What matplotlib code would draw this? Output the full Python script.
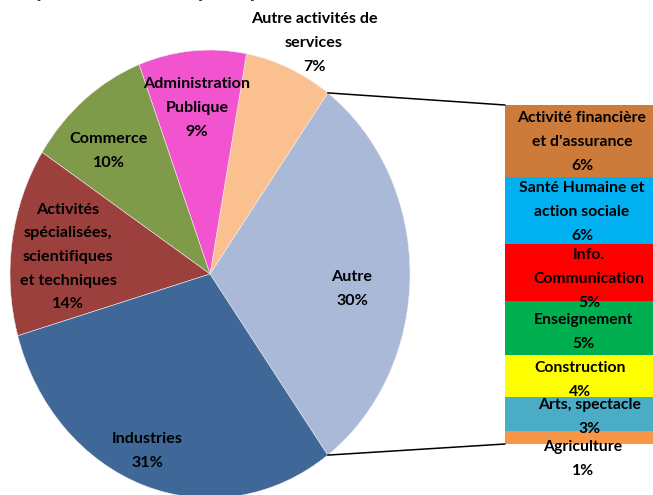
import numpy as np
import matplotlib.pyplot as plt
from matplotlib.patches import ConnectionPatch

# Données du camembert (Autre = somme de la barre)
pie_labels = ["Autre", "Autre activités de\nservices", "Administration\nPublique",
              "Commerce", "Activités\nspécialisées,\nscientifiques\net techniques", "Industries"]
pie_other = [7.1, 8.7, 10.1, 13.6, 30.6]
pie_colors = ["#AAB9D7", "#FAC090", "#F254D0", "#7F9A48", "#9C403E", "#3F6898"]

bar_labels = ["Activité financière\net d'assurance", "Santé Humaine et\naction sociale",
              "Info.\nCommunication", "Enseignement", "Construction",
              "Arts, spectacle", "Agriculture"]
bar_values = [6.37, 5.93, 5.04, 4.78, 3.72, 3.01, 1.15]
bar_colors = ["#CD7B3A", "#00B0F0", "#FF0000", "#00B050", "#FFFF00", "#4BACC6", "#F79646"]

pie_values = [sum(bar_values)] + pie_other
total = sum(pie_values)

W, H = 653, 495
plt.rcParams['font.family'] = ['Lato', 'DejaVu Sans']

def rect(x0, y0, x1, y1):
    return [x0 / W, 1 - y1 / H, (x1 - x0) / W, (y1 - y0) / H]

fig = plt.figure(figsize=(W / 100, H / 100), dpi=100)

# camembert
ax = fig.add_axes(rect(10, 50, 410, 498))
half = pie_values[0] / total * 360 / 2
ax.pie(pie_values, colors=pie_colors, startangle=-half, counterclock=True,
       wedgeprops=dict(linewidth=0.4, edgecolor='#EEEEEE'))
ax.set_xlim(-1, 1)
ax.set_ylim(-1, 1)
ax.set_aspect('auto')
ax.axis('off')

# barre empilée
bax = fig.add_axes(rect(505, 105, 653, 444))
bottoms = np.concatenate([[0], np.cumsum(bar_values)[:-1]])
bax.bar(0, bar_values, bottom=bottoms, width=1, color=bar_colors, linewidth=0)
bax.set_xlim(-0.5, 0.5)
bax.set_ylim(sum(bar_values), 0)
bax.axis('off')

# lignes de liaison
for ang, yb in [(half, 0), (-half, sum(bar_values))]:
    a = np.radians(ang)
    con = ConnectionPatch(xyA=(np.cos(a), np.sin(a)), coordsA=ax.transData,
                          xyB=(-0.5, yb), coordsB=bax.transData,
                          color='black', linewidth=1.1)
    fig.add_artist(con)

# étiquettes
pie_pos = [(314, 43), (197, 108), (109, 151), (68, 257), (147, 451)]
pie_pos = [(352, 289)] + pie_pos
for lab, v, (x, y) in zip(pie_labels, pie_values, pie_pos):
    fig.text(x / W, 1 - y / H, f"{lab}\n{round(v / total * 100)}%", ha='center', va='center',
             fontsize=11.6, weight='bold', linespacing=1.88, multialignment='center')

bar_pos = [(582, 142), (582, 212), (589, 279), (583, 332), (580, 380), (590, 417), (583, 459)]
for lab, v, (x, y) in zip(bar_labels, bar_values, bar_pos):
    fig.text(x / W, 1 - y / H, f"{lab}\n{round(v / total * 100)}%", ha='center', va='center',
             fontsize=11.3, weight='bold', linespacing=1.88, multialignment='center')

# titre (coupé en haut)
fig.text(10 / W, 1 + 3 / H, "Répartition des emplois par secteurs d'activités", ha='left',
         va='baseline', fontsize=16, weight='bold', color='#1F3A6E')

fig.savefig("out.png", dpi=100)
